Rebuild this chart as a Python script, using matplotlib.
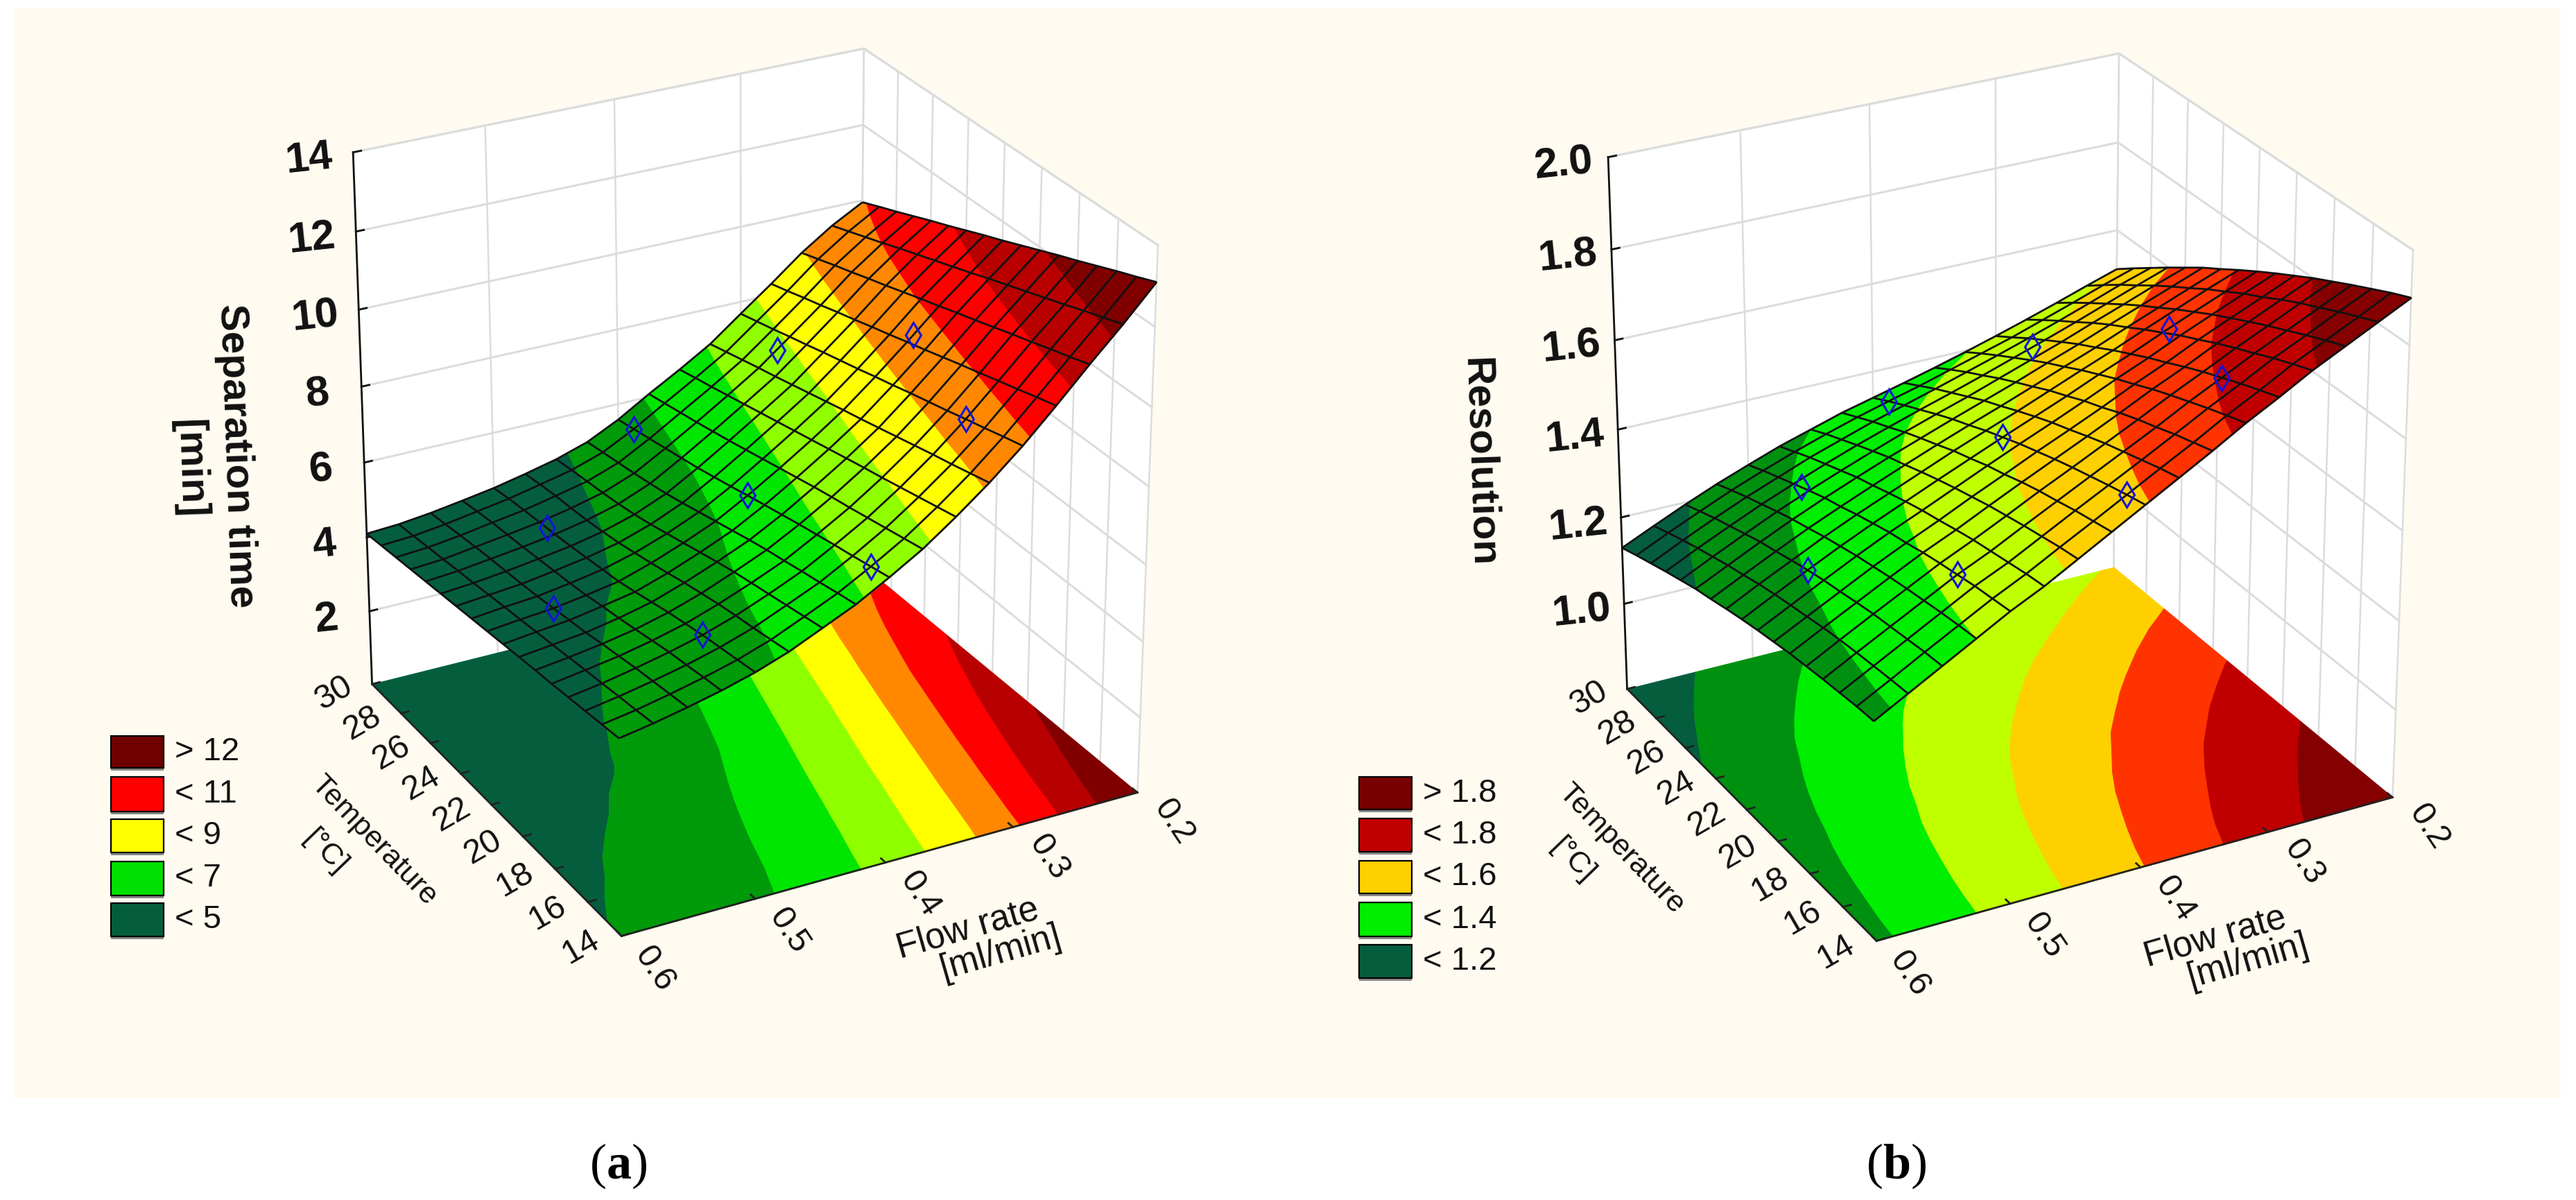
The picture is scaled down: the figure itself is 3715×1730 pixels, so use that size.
import numpy as np
import matplotlib
matplotlib.use("Agg")
import matplotlib.pyplot as plt
from matplotlib.patches import Rectangle
from mpl_toolkits.mplot3d import proj3d
from mpl_toolkits.mplot3d.art3d import Poly3DCollection
from contourpy import contour_generator

plt.rcParams['font.family'] = ['Liberation Sans', 'DejaVu Sans']
plt.rcParams['mathtext.fontset'] = 'custom'
plt.rcParams['mathtext.rm'] = 'Liberation Serif'
plt.rcParams['mathtext.bf'] = 'Liberation Serif:bold'

# columns: flow rate, rows: temperature
flow = [0.6, 0.575, 0.55, 0.525, 0.5, 0.475, 0.45, 0.425, 0.4, 0.375, 0.35, 0.325, 0.3, 0.275, 0.25, 0.225, 0.2]
temp = [14, 15, 16, 17, 18, 19, 20, 21, 22, 23, 24, 25, 26, 27, 28, 29, 30]
flow_ticks = [0.6, 0.5, 0.4, 0.3, 0.2]
flow_tick_labels = ['0.6', '0.5', '0.4', '0.3', '0.2']
temp_ticks = [14, 16, 18, 20, 22, 24, 26, 28, 30]

# separation time
time_table = [
    [5.05, 5.20, 5.38, 5.58, 5.82, 6.12, 6.50, 6.88, 7.35, 7.85, 8.45, 9.10, 9.82, 10.62, 11.45, 12.25, 13.10],
    [4.99, 5.13, 5.31, 5.51, 5.74, 6.03, 6.40, 6.78, 7.24, 7.74, 8.33, 8.97, 9.69, 10.48, 11.29, 12.08, 12.90],
    [4.93, 5.07, 5.24, 5.43, 5.66, 5.94, 6.30, 6.67, 7.13, 7.63, 8.21, 8.84, 9.55, 10.33, 11.14, 11.91, 12.71],
    [4.87, 5.00, 5.17, 5.36, 5.58, 5.86, 6.20, 6.57, 7.03, 7.52, 8.09, 8.72, 9.42, 10.19, 10.98, 11.73, 12.51],
    [4.81, 4.94, 5.08, 5.26, 5.48, 5.77, 6.10, 6.46, 6.92, 7.41, 7.97, 8.59, 9.28, 10.04, 10.83, 11.56, 12.31],
    [4.76, 4.87, 5.00, 5.16, 5.38, 5.66, 6.00, 6.36, 6.81, 7.31, 7.86, 8.46, 9.15, 9.90, 10.67, 11.39, 12.12],
    [4.70, 4.80, 4.90, 5.06, 5.26, 5.55, 5.88, 6.24, 6.69, 7.20, 7.74, 8.33, 9.02, 9.75, 10.51, 11.22, 11.92],
    [4.64, 4.74, 4.83, 4.98, 5.14, 5.42, 5.75, 6.11, 6.57, 7.08, 7.62, 8.20, 8.88, 9.60, 10.36, 11.05, 11.72],
    [4.58, 4.67, 4.75, 4.88, 5.03, 5.30, 5.62, 5.98, 6.45, 6.96, 7.50, 8.08, 8.75, 9.46, 10.20, 10.87, 11.52],
    [4.52, 4.61, 4.68, 4.81, 4.96, 5.19, 5.49, 5.85, 6.32, 6.84, 7.38, 7.95, 8.61, 9.31, 10.05, 10.70, 11.33],
    [4.46, 4.54, 4.62, 4.75, 4.89, 5.08, 5.36, 5.72, 6.20, 6.72, 7.26, 7.82, 8.48, 9.17, 9.89, 10.53, 11.13],
    [4.40, 4.47, 4.57, 4.69, 4.82, 5.00, 5.25, 5.60, 6.08, 6.60, 7.14, 7.69, 8.35, 9.02, 9.73, 10.36, 10.93],
    [4.34, 4.41, 4.52, 4.63, 4.76, 4.93, 5.16, 5.50, 5.98, 6.49, 7.02, 7.56, 8.21, 8.88, 9.58, 10.19, 10.74],
    [4.28, 4.34, 4.46, 4.58, 4.71, 4.88, 5.09, 5.41, 5.88, 6.38, 6.90, 7.44, 8.08, 8.73, 9.42, 10.01, 10.54],
    [4.22, 4.28, 4.39, 4.53, 4.66, 4.84, 5.03, 5.33, 5.78, 6.28, 6.78, 7.31, 7.94, 8.59, 9.27, 9.84, 10.34],
    [4.16, 4.21, 4.32, 4.46, 4.60, 4.78, 4.97, 5.25, 5.68, 6.18, 6.67, 7.18, 7.81, 8.44, 9.11, 9.67, 10.15],
    [4.10, 4.15, 4.25, 4.38, 4.52, 4.70, 4.90, 5.17, 5.58, 6.08, 6.55, 7.05, 7.68, 8.30, 8.95, 9.50, 9.95],
]

# resolution
res_table = [
    [1.280, 1.320, 1.360, 1.400, 1.440, 1.475, 1.515, 1.555, 1.595, 1.635, 1.675, 1.717, 1.755, 1.795, 1.830, 1.865, 1.900],
    [1.277, 1.316, 1.356, 1.395, 1.434, 1.469, 1.508, 1.546, 1.585, 1.624, 1.662, 1.703, 1.740, 1.779, 1.813, 1.847, 1.882],
    [1.272, 1.311, 1.350, 1.389, 1.428, 1.461, 1.499, 1.537, 1.574, 1.611, 1.649, 1.688, 1.724, 1.762, 1.795, 1.829, 1.862],
    [1.267, 1.306, 1.344, 1.382, 1.420, 1.453, 1.490, 1.526, 1.562, 1.598, 1.634, 1.672, 1.707, 1.743, 1.776, 1.809, 1.842],
    [1.261, 1.300, 1.338, 1.375, 1.412, 1.445, 1.480, 1.516, 1.550, 1.585, 1.620, 1.656, 1.690, 1.725, 1.757, 1.790, 1.821],
    [1.255, 1.293, 1.330, 1.367, 1.403, 1.435, 1.470, 1.504, 1.537, 1.570, 1.604, 1.639, 1.671, 1.706, 1.737, 1.769, 1.800],
    [1.247, 1.284, 1.321, 1.358, 1.392, 1.424, 1.458, 1.490, 1.523, 1.554, 1.586, 1.620, 1.651, 1.685, 1.716, 1.746, 1.777],
    [1.239, 1.276, 1.313, 1.349, 1.383, 1.414, 1.446, 1.478, 1.509, 1.539, 1.570, 1.602, 1.632, 1.665, 1.695, 1.725, 1.754],
    [1.230, 1.267, 1.303, 1.338, 1.371, 1.402, 1.433, 1.463, 1.493, 1.522, 1.551, 1.582, 1.611, 1.642, 1.672, 1.701, 1.730],
    [1.220, 1.257, 1.292, 1.327, 1.359, 1.389, 1.419, 1.449, 1.477, 1.504, 1.533, 1.562, 1.590, 1.620, 1.649, 1.678, 1.705],
    [1.209, 1.245, 1.280, 1.314, 1.345, 1.375, 1.404, 1.432, 1.459, 1.485, 1.512, 1.540, 1.567, 1.596, 1.624, 1.652, 1.679],
    [1.199, 1.234, 1.269, 1.302, 1.333, 1.362, 1.390, 1.416, 1.442, 1.467, 1.492, 1.519, 1.545, 1.573, 1.600, 1.627, 1.654],
    [1.186, 1.221, 1.255, 1.288, 1.318, 1.346, 1.373, 1.399, 1.423, 1.446, 1.471, 1.496, 1.521, 1.548, 1.574, 1.601, 1.626],
    [1.173, 1.208, 1.241, 1.273, 1.302, 1.330, 1.356, 1.380, 1.403, 1.425, 1.448, 1.472, 1.496, 1.521, 1.547, 1.573, 1.598],
    [1.159, 1.194, 1.227, 1.258, 1.286, 1.314, 1.338, 1.362, 1.383, 1.404, 1.426, 1.448, 1.471, 1.495, 1.520, 1.546, 1.569],
    [1.145, 1.179, 1.211, 1.242, 1.270, 1.296, 1.320, 1.342, 1.362, 1.381, 1.402, 1.423, 1.444, 1.468, 1.492, 1.517, 1.540],
    [1.130, 1.163, 1.195, 1.225, 1.252, 1.278, 1.300, 1.322, 1.340, 1.358, 1.377, 1.397, 1.418, 1.440, 1.463, 1.487, 1.510],
]

# measured points, same design on both panels
point_flow = [0.5, 0.55, 0.4, 0.5, 0.4, 0.31, 0.4, 0.27, 0.3]
point_temp = [26.5, 22, 29, 17, 22, 27, 15, 22, 17]
point_time = [4.74, 4.75, 5.68, 5.58, 6.45, 7.80, 7.24, 9.60, 9.42]
point_res = [1.31, 1.303, 1.362, 1.42, 1.493, 1.487, 1.585, 1.648, 1.707]

time_levels = [5, 6, 7, 8, 9, 10, 11, 12]
time_colors = ['#045E3E', '#009A0A', '#00E600', '#8FFF00', '#FFFF00', '#FF8800', '#FF0000', '#B80000', '#800000']
time_ticks = [2, 4, 6, 8, 10, 12, 14]
time_tick_labels = ['2', '4', '6', '8', '10', '12', '14']
time_legend = ['> 12', '< 11', '< 9', '< 7', '< 5']
time_legend_colors = ['#700000', '#FF0000', '#FFFF00', '#00E000', '#045E3E']

res_levels = [1.2, 1.3, 1.4, 1.5, 1.6, 1.7, 1.8]
res_colors = ['#045E3E', '#009010', '#00EE00', '#C0FF00', '#FFD000', '#FF3300', '#C00000', '#850000']
res_ticks = [1.0, 1.2, 1.4, 1.6, 1.8, 2.0]
res_tick_labels = ['1.0', '1.2', '1.4', '1.6', '1.8', '2.0']
res_legend = ['> 1.8', '< 1.8', '< 1.6', '< 1.4', '< 1.2']
res_legend_colors = ['#780000', '#C00000', '#FFD000', '#00EE00', '#045E3E']

W, H = 3716, 1730
GRID = '#DCDCDC'
dark = '#111111'


def on_surface(pts, table):
    # bilinear height of the table under contour vertices
    cols = np.interp(-pts[:, 0], -np.array(flow), np.arange(len(flow)))
    rows = np.interp(pts[:, 1], temp, np.arange(len(temp)))
    c0 = np.clip(np.floor(cols).astype(int), 0, len(flow) - 2)
    r0 = np.clip(np.floor(rows).astype(int), 0, len(temp) - 2)
    a = cols - c0
    b = rows - r0
    return (table[r0, c0] * (1 - a) * (1 - b) + table[r0, c0 + 1] * a * (1 - b)
            + table[r0 + 1, c0] * (1 - a) * b + table[r0 + 1, c0 + 1] * a * b)


def draw_bands(ax, table, levels, colors, floor=None, zorder=4):
    gen = contour_generator(np.array(flow), np.array(temp), table, fill_type='OuterOffset')
    edges = [-1e9] + list(levels) + [1e9]
    for i, col in enumerate(colors):
        points, offsets = gen.filled(edges[i], edges[i + 1])
        polys = []
        for p, o in zip(points, offsets):
            ring = p[o[0]:o[1]]
            z = np.full(len(ring), floor) if floor is not None else on_surface(ring, table)
            polys.append(np.column_stack([ring, z]))
        if polys:
            ax.add_collection3d(Poly3DCollection(polys, facecolors=col, edgecolors=col, linewidths=1.0,
                                                 zorder=zorder), autolim=False)


def label3d(ax, x, y, z, s, **kw):
    # 3d point -> figure pixels, text itself sits on the flat background axes
    x2, y2, _ = proj3d.proj_transform(x, y, z, ax.get_proj())
    px = bg.transData.inverted().transform(ax.transData.transform((x2, y2)))
    bg.text(px[0], px[1], s, ha='center', va='center', color=dark, **kw)


def draw_panel(left, top, table, levels, colors, zlim, zticks, zticklabels, pz):
    size = 1420
    ax = fig.add_axes([left / W, 1 - (top + size) / H, size / W, size / H], projection='3d', zorder=2)
    ax.set_facecolor('none')
    ax.computed_zorder = False
    ax.set_proj_type('persp', focal_length=1.0)
    ax.view_init(elev=26.4, azim=-118.3)
    ax.set_box_aspect((841, 825, 868))
    ax.set_axis_off()
    f0, f1 = flow[0], flow[-1]
    t0, t1 = temp[0], temp[-1]
    z0, z1 = zlim

    # white back walls
    wall_a = [[f0, t1, z0], [f1, t1, z0], [f1, t1, z1], [f0, t1, z1]]
    wall_b = [[f1, t1, z0], [f1, t0, z0], [f1, t0, z1], [f1, t1, z1]]
    ax.add_collection3d(Poly3DCollection([wall_a, wall_b], facecolors='white', edgecolors='white',
                                         zorder=1), autolim=False)
    for zt in list(zticks) + [z1]:
        ax.plot([f0, f1, f1], [t1, t1, t0], [zt, zt, zt], color=GRID, lw=2.2, zorder=2)
    for ft in flow_ticks[1:]:
        ax.plot([ft, ft], [t1, t1], [z0, z1], color=GRID, lw=1.8, zorder=2)
    for tt in temp_ticks:
        ax.plot([f1, f1], [tt, tt], [z0, z1], color=GRID, lw=1.8, zorder=2)

    draw_bands(ax, table, levels, colors, floor=z0, zorder=3)

    # dark axis lines and small ticks
    ax.plot([f0, f0], [t1, t1], [z0, z1], color=dark, lw=2.0, zorder=3.5)
    ax.plot([f0, f0, f1], [t1, t0, t0], [z0, z0, z0], color='#222222', lw=2.0, zorder=3.5)
    for zt in zticks:
        ax.plot([f0, f0 - 0.006], [t1, t1], [zt, zt], color=dark, lw=2.0, zorder=3.5)
    for tt in temp_ticks:
        ax.plot([f0, f0 - 0.006], [tt, tt], [z0, z0], color='#222222', lw=2.0, zorder=3.5)
    for ft in flow_ticks:
        ax.plot([ft, ft], [t0, t0 + 0.25], [z0, z0], color='#222222', lw=2.0, zorder=3.5)

    draw_bands(ax, table, levels, colors, zorder=4)
    X, Y = np.meshgrid(flow, temp)
    ax.plot_wireframe(X, Y, table, rstride=1, cstride=1, color=dark, linewidth=2.0, zorder=5)
    ax.plot(point_flow, point_temp, pz, ls='none', marker='d', ms=18, mfc='none', mec='#1414D8', mew=2.2, zorder=6)

    ax.set_xlim(f0, f1, view_margin=0)
    ax.set_ylim(t0, t1, view_margin=0)
    ax.set_zlim(z0, z1, view_margin=0)
    ax.set_autoscale_on(False)
    ax.apply_aspect()

    for zt, lab in zip(zticks, zticklabels):
        label3d(ax, f0 + 0.032, t1 + 0.1, zt, lab, fontsize=44, fontweight='bold', rotation=6)
    for tt in temp_ticks:
        label3d(ax, f0 + 0.03, tt, z0, str(tt), fontsize=35, rotation=30)
    for ft, lab in zip(flow_ticks, flow_tick_labels):
        label3d(ax, ft, t0 - 1.9, z0, lab, fontsize=35, rotation=-56)
    return ax


fig = plt.figure(figsize=(W / 100, H / 100), facecolor='white')
bg = fig.add_axes([0, 0, 1, 1], zorder=0)
bg.set_xlim(0, W)
bg.set_ylim(H, 0)
bg.axis('off')
bg.add_patch(Rectangle((19, 11), 3674, 1572, facecolor='#FFFBF0', edgecolor='none'))

draw_panel(349, -7, np.array(time_table), time_levels, time_colors, (0, 14), time_ticks, time_tick_labels, point_time)
draw_panel(2159, 0, np.array(res_table), res_levels, res_colors, (0.8, 2.0), res_ticks, res_tick_labels, point_res)


def draw_legend(x, ys, labels, colors):
    for (y0, y1), lab, col in zip(ys, labels, colors):
        bg.add_patch(Rectangle((x, y0 + 4), 76, y1 - y0, facecolor='#8A8A8A', edgecolor='none'))
        bg.add_patch(Rectangle((x, y0), 76, y1 - y0, facecolor=col, edgecolor='black', lw=1.6))
        bg.text(x + 92, (y0 + y1) / 2, lab, fontsize=34, ha='left', va='center', color=dark)


draw_legend(160, [(1061, 1107), (1120, 1170), (1181, 1229), (1242, 1291), (1302, 1350)], time_legend, time_legend_colors)
draw_legend(1960, [(1120, 1167), (1180, 1228), (1241, 1288), (1301, 1350), (1362, 1410)], res_legend, res_legend_colors)

# axis titles
bg.text(341, 657, 'Separation time', fontsize=42, fontweight='bold', rotation=-88, ha='center', va='center', color=dark)
bg.text(273, 676, '[min]', fontsize=42, fontweight='bold', rotation=-88, ha='center', va='center', color=dark)
bg.text(2133, 666, 'Resolution', fontsize=42, fontweight='bold', rotation=-88, ha='center', va='center', color=dark)
for dx, dy in [(0, 0), (1799, 12)]:
    bg.text(539 + dx, 1212 + dy, 'Temperature', fontsize=31, rotation=-46, ha='center', va='center', color=dark)
    bg.text(469 + dx, 1229 + dy, '[°C]', fontsize=31, rotation=-46, ha='center', va='center', color=dark)
    bg.text(1396 + dx, 1339 + dy, 'Flow rate', fontsize=37, rotation=16, ha='center', va='center', color=dark)
    bg.text(1443 + dx, 1374 + dy, '[ml/min]', fontsize=37, rotation=16, ha='center', va='center', color=dark)

bg.text(892, 1681, r'($\mathbf{a}$)', fontsize=52, family='Liberation Serif', ha='center', va='center', color='black')
bg.text(2735, 1681, r'($\mathbf{b}$)', fontsize=52, family='Liberation Serif', ha='center', va='center', color='black')

fig.savefig('out.png', dpi=100)
